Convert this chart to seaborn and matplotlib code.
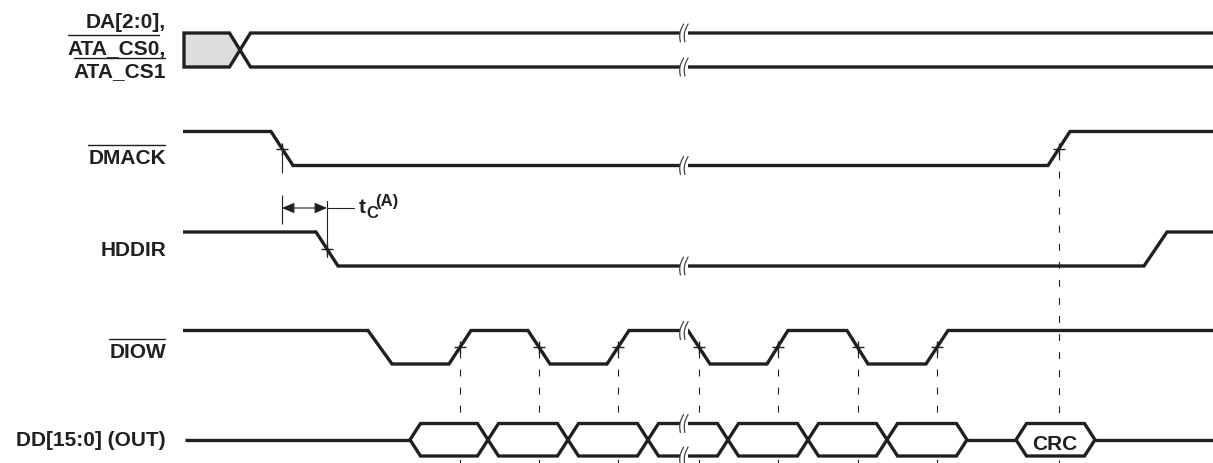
import numpy as np
import pandas as pd
import matplotlib
matplotlib.use("Agg")
import matplotlib.pyplot as plt
import seaborn as sns

# ---------------- data ----------------
# signal labels (text, baseline row) and which need an overline (active-low)
label_texts = ["DA[2:0],", "ATA_CS0,", "ATA_CS1", "DMACK", "HDDIR", "DIOW", "DD[15:0] (OUT)"]
label_overlined = [False, True, True, True, False, True, False]

# waveform vertices: time position and logic level (1 = high, 0 = low)
dmack_t = [183, 271, 293, 1048, 1070, 1213]
dmack_v = [1, 1, 0, 0, 1, 1]
hddir_t = [183, 316, 338, 1144, 1167, 1213]
hddir_v = [1, 1, 0, 0, 1, 1]
diow_t = [183, 368, 392, 449, 471, 528, 550, 607, 629, 688, 710, 767, 788,
          847, 868, 926, 948, 1213]
diow_v = [1, 1, 0, 0, 1, 1, 0, 0, 1, 1, 0, 0, 1, 1, 0, 0, 1, 1]
# which edges carry a reference "+" mark (edge indices)
dmack_marked = [0, 1]
hddir_marked = [0]
diow_marked = [1, 2, 3, 4, 5, 6, 7]

# buses
da_start, da_change, da_end = 184, 240, 1213
dd_idle = [(185, 410), (967, 1016), (1095, 1213)]
dd_words = [410, 488, 568, 648, 728, 808, 887, 967]     # data word boundaries
crc_word = [1016, 1095]
crc_label = "CRC"

# timing annotation
tc_text = ("t", "C", "(A)")
break_at = (680, 688)

# ---------------- style ----------------
INK = "#231f20"
LW = 2.4
ROW = {"DA": (34, 68), "DMACK": (132.5, 166.5), "HDDIR": (233, 267),
       "DIOW": (331.5, 365), "DD": (424.5, 457)}
SLOPE = 10.5
LABEL_X = 166
LABEL_BASE = [28.5, 54.5, 77.0, 164.0, 256.5, 358.5, 446.5]
FS = 15

sns.set_theme(style="white")
plt.rcParams["font.family"] = ["Liberation Sans", "DejaVu Sans"]
plt.rcParams["font.weight"] = "bold"
plt.rcParams["lines.scale_dashes"] = False

fig = plt.figure(figsize=(12.13, 4.64), dpi=100)
ax = fig.add_axes([0, 0, 1, 1])
ax.set_xlim(0, 1213)
ax.set_ylim(464, 0)


def edges(ts, vs):
    out = []
    for i in range(len(ts) - 1):
        if vs[i] != vs[i + 1]:
            out.append(0.5 * (ts[i] + ts[i + 1]))
    return out


# ---- digital waveforms via seaborn ----
frames = []
for name, ts, vs in [("DMACK", dmack_t, dmack_v), ("HDDIR", hddir_t, hddir_v),
                     ("DIOW", diow_t, diow_v)]:
    hi, lo = ROW[name]
    frames.append(pd.DataFrame({"x": ts, "y": [hi if v else lo for v in vs], "trace": name}))
mid = sum(ROW["DD"]) / 2
for k, (a, b) in enumerate(dd_idle):
    frames.append(pd.DataFrame({"x": [a, b], "y": [mid, mid], "trace": f"dd_idle{k}"}))
wave = pd.concat(frames, ignore_index=True)
sns.lineplot(data=wave, x="x", y="y", units="trace", estimator=None, sort=False,
             color=INK, linewidth=LW, legend=False, ax=ax, zorder=3,
             solid_joinstyle="miter", solid_capstyle="butt")


def hexagon(a, b, top, bot, face="white", z=3):
    m = 0.5 * (top + bot)
    xs = [a, a + SLOPE, b - SLOPE, b, b - SLOPE, a + SLOPE]
    ys = [m, top, top, m, bot, bot]
    ax.fill(xs, ys, facecolor=face, edgecolor=INK, linewidth=LW, zorder=z,
            joinstyle="miter")


# DA bus
t, b = ROW["DA"]
m = 0.5 * (t + b)
ax.fill([da_start, da_change - SLOPE, da_change, da_change - SLOPE, da_start],
        [t, t, m, b, b], facecolor="#dcdddf", edgecolor=INK, linewidth=LW, zorder=3,
        joinstyle="miter")
hexagon(da_change, da_end + 40, t, b)

# DD bus words
t, b = ROW["DD"]
for a, c in zip(dd_words[:-1], dd_words[1:]):
    hexagon(a, c, t, b)
hexagon(crc_word[0], crc_word[1], t, b)
ax.text(0.5 * sum(crc_word) - 1, 450, crc_label, ha="center", va="baseline",
        fontsize=FS, fontweight="bold", color=INK, zorder=6)

# ---- break marks ----
def break_mark(y):
    x0, x1 = break_at
    ax.fill_between([x0 + 0.3, x1 - 0.3], y - 3.5, y + 3.5, color="white", zorder=4, lw=0)
    tt = np.linspace(0, 1, 30)
    for xc in (x0 + 2, x1 - 1.5):
        xs = xc - 2.0 * np.sin(np.pi * tt) + 1.6 * (0.5 - tt) * 2
        ys = y - 9 + 18 * tt
        ax.plot(xs, ys, color="#444444", lw=0.9, zorder=5)


for y in [ROW["DA"][0], ROW["DA"][1], ROW["DMACK"][1], ROW["HDDIR"][1],
          ROW["DIOW"][0], ROW["DD"][0], ROW["DD"][1]]:
    break_mark(y)

# ---- reference marks and dashed lines ----
mk = dict(marker="+", ms=9, mew=1.0, color=INK, ls="none", zorder=6)
dm_all = edges(dmack_t, dmack_v)
hd_all = edges(hddir_t, hddir_v)
dw_all = edges(diow_t, diow_v)
dm_e = [dm_all[i] for i in dmack_marked]
hd_e = [hd_all[i] for i in hddir_marked]
dw_e = [dw_all[i] for i in diow_marked]
ymid = lambda r: 0.5 * sum(ROW[r])
ax.plot(dm_e, [ymid("DMACK")] * len(dm_e), **mk)
ax.plot(hd_e, [ymid("HDDIR")] * len(hd_e), **mk)
ax.plot(dw_e, [ymid("DIOW")] * len(dw_e), **mk)

dash = (0, (5, 8))
for x in dw_e:
    ax.plot([x, x], [ymid("DIOW") + 4, 464], color=INK, lw=0.8, ls=dash, zorder=1)
ax.plot([dm_e[1]] * 2, [ymid("DMACK") + 4, 464], color=INK, lw=0.8, ls=dash, zorder=1)
ax.plot([dm_e[0]] * 2, [ymid("DMACK") + 3, 225], color=INK, lw=0.8,
        ls=(0, (15, 16, 22, 8)), zorder=1)
ax.plot([hd_e[0]] * 2, [202, 258], color=INK, lw=0.8, zorder=1)

# tC arrow
ya = 209
ax.annotate("", xy=(dm_e[0], ya), xytext=(hd_e[0], ya),
            arrowprops=dict(arrowstyle="<|-|>,head_length=0.75,head_width=0.32",
                            color=INK, lw=0.8, shrinkA=0, shrinkB=0, mutation_scale=10))
ax.plot([hd_e[0], 354], [ya, ya], color=INK, lw=0.8)
ax.text(359, 213.5, tc_text[0], fontsize=FS, fontweight="bold", color=INK, va="baseline")
ax.text(366.5, 218, tc_text[1], fontsize=12, fontweight="bold", color=INK, va="baseline")
ax.text(375, 206.5, tc_text[2], fontsize=12, fontweight="bold", color=INK, va="baseline")

# ---- labels ----
texts = []
for s, yb in zip(label_texts, LABEL_BASE):
    texts.append(ax.text(LABEL_X, yb, s, ha="right", va="baseline", fontsize=FS,
                         fontweight="bold", color=INK))
fig.canvas.draw()
r = fig.canvas.get_renderer()
inv = ax.transData.inverted()
comma = ax.text(0, 0, ",", fontsize=FS, fontweight="bold")
cw = comma.get_window_extent(r).width
comma.remove()
cap = FS * 100 / 72 * 0.716
for txt, s, yb, ov in zip(texts, label_texts, LABEL_BASE, label_overlined):
    if not ov:
        continue
    bb = txt.get_window_extent(r)
    x0 = bb.x0
    x1 = bb.x1 - (cw if s.endswith(",") else 0)
    (dx0, _), (dx1, _) = inv.transform([(x0, 0), (x1, 0)])
    yo = yb - cap - 3.5
    ax.plot([dx0, dx1 - 1], [yo, yo], color=INK, lw=1.0)

ax.axis("off")
fig.savefig("out.png", dpi=100, facecolor="white")
